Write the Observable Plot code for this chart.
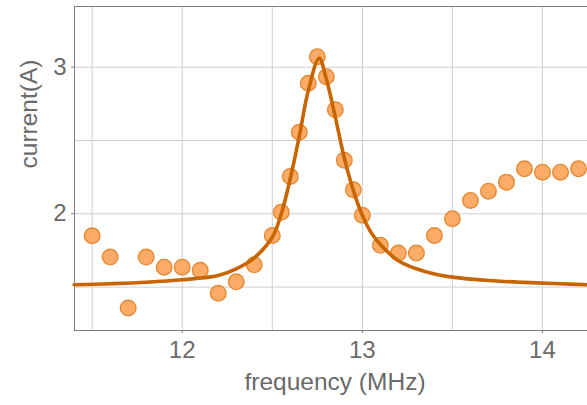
<!DOCTYPE html>
<html>
<head>
<meta charset="utf-8">
<script src="https://cdn.jsdelivr.net/npm/d3@7"></script>
<script src="https://cdn.jsdelivr.net/npm/@observablehq/plot@0.6"></script>
<style>
  html, body { margin: 0; padding: 0; background: #fff; }
  #chart svg { display: block; }
</style>
</head>
<body>
<div id="chart"></div>
<script>
// measured data points
const freq = [11.5,11.6,11.7,11.8,11.9,12.0,12.1,12.2,12.3,12.4,12.5,12.55,12.6,12.65,12.7,12.75,12.8,12.85,12.9,12.95,13.0,13.1,13.2,13.3,13.4,13.5,13.6,13.7,13.8,13.9,14.0,14.1,14.2];
const current = [1.85,1.705,1.357,1.705,1.636,1.636,1.615,1.458,1.536,1.652,1.852,2.01,2.254,2.556,2.89,3.072,2.935,2.709,2.365,2.164,1.99,1.785,1.732,1.732,1.852,1.966,2.091,2.154,2.216,2.307,2.284,2.284,2.307];

// fitted resonance curve
const fitFreq = [11.40,11.6,11.8,12.0,12.2,12.3,12.4,12.5,12.55,12.6,12.65,12.7,12.76,12.8,12.85,12.9,12.95,13.0,13.05,13.1,13.2,13.3,13.4,13.5,13.7,13.9,14.1,14.25];
const fitCurrent = [1.516,1.523,1.533,1.55,1.58,1.625,1.70,1.84,2.0,2.24,2.53,2.84,3.06,2.92,2.66,2.38,2.16,1.99,1.87,1.79,1.68,1.625,1.59,1.568,1.545,1.532,1.523,1.516];

const xTicks = [12, 13, 14];
const yTicks = [2, 3];
const xGrid = [11.5, 12, 12.5, 13, 13.5, 14];
const yGrid = [1.5, 2, 2.5, 3];

const points = freq.map((f, i) => ({f, c: current[i]}));
const fit = fitFreq.map((f, i) => ({f, c: fitCurrent[i]}));

const textColor = "#6a6a6a";
const frameColor = "#808080";

const chart = Plot.plot({
  width: 587,
  height: 405,
  marginLeft: 74,
  marginTop: 6,
  marginBottom: 75,
  marginRight: 0,
  style: {fontFamily: "Liberation Sans, Arial, sans-serif", background: "#fff"},
  x: {domain: [11.402, 14.25], axis: null},
  y: {domain: [1.204, 3.414], axis: null},
  marks: [
    Plot.ruleX(xGrid, {stroke: "#cfcfcf", strokeWidth: 1}),
    Plot.ruleY(yGrid, {stroke: "#cfcfcf", strokeWidth: 1}),
    Plot.frame({stroke: frameColor, strokeWidth: 1}),
    Plot.axisX({ticks: xTicks, tickSize: 3, tickFormat: d => String(d), fontSize: 24, color: textColor, stroke: frameColor, tickPadding: 7, label: null}),
    Plot.axisY({ticks: yTicks, tickSize: 3, tickFormat: d => String(d), fontSize: 24, color: textColor, stroke: frameColor, tickPadding: 5, label: null}),
    Plot.dot(points, {x: "f", y: "c", r: 7.8, fill: "#fca85e", stroke: "#e48a36", strokeWidth: 1.4, fillOpacity: 0.95}),
    Plot.line(fit, {x: "f", y: "c", stroke: "#c96500", strokeWidth: 3.6, curve: "catmull-rom"}),
    Plot.text(["frequency (MHz)"], {frameAnchor: "bottom", dy: 59, dx: 4, fontSize: 24.5, fill: textColor}),
    Plot.text(["current(A)"], {frameAnchor: "left", dx: -45, rotate: -90, fontSize: 24.5, fill: textColor})
  ]
});
document.getElementById("chart").appendChild(chart);
</script>
</body>
</html>
